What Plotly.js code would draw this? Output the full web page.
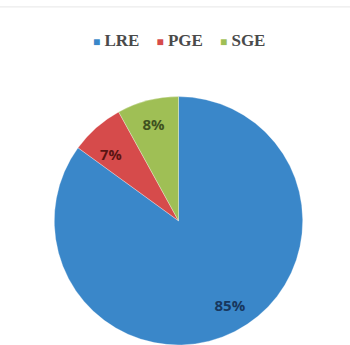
<!DOCTYPE html>
<html><head><meta charset="utf-8">
<script src="https://cdn.plot.ly/plotly-3.0.1.min.js"></script>
<style>html,body{margin:0;padding:0;background:#fff}#chart{width:350px;height:345px}</style>
</head><body><div id="chart"></div>
<script>
const categories = ["LRE", "PGE", "SGE"];
const values = [85, 7, 8];
const sliceColors = ["#3a87c9", "#d64b4b", "#9fbf55"];
const labelColors = ["#17375e", "#5a1412", "#3f5220"];

const nb = "&nbsp;";
const labelTemplates = [
  "&nbsp;<br>&nbsp;<br><span style=\"font-size:8px\">&nbsp;</span><br>" + nb.repeat(12) + "%{percent:.0%}",
  "&nbsp;<br>%{percent:.0%}",
  "%{percent:.0%}"
];

const data = [{
  type: "pie",
  labels: categories,
  values: values,
  sort: false,
  direction: "clockwise",
  rotation: 0,
  marker: {colors: sliceColors, line: {color: "#ffffff", width: 0.3}},
  texttemplate: labelTemplates,
  textposition: "inside",
  insidetextorientation: "horizontal",
  insidetextfont: {family: "Open Sans, sans-serif", size: 15, weight: "bold", color: labelColors},
  hoverinfo: "none",
  showlegend: false,
  domain: {x: [0.15, 0.87], y: [0, 0.72]}
}];

const legendText = categories.map((c, i) =>
  `<span style="color:${sliceColors[i]};font-size:12px">■</span>&nbsp;${c}`).join(nb.repeat(4));

const layout = {
  width: 350, height: 345,
  margin: {l: 0, r: 0, t: 0, b: 0},
  paper_bgcolor: "#ffffff",
  showlegend: false,
  annotations: [{
    xref: "paper", yref: "paper", x: 0.51, y: 0.884, xanchor: "center", yanchor: "middle",
    showarrow: false, text: legendText,
    font: {family: "Liberation Serif, serif", size: 17, weight: "bold", color: "#4a4a4a"}
  }],
  shapes: [{type: "line", xref: "paper", yref: "paper", x0: 0, x1: 1, y0: 0.98, y1: 0.98,
    line: {color: "#e6e6e6", width: 1}}]
};

Plotly.newPlot("chart", data, layout, {displayModeBar: false, staticPlot: true});
</script></body></html>
